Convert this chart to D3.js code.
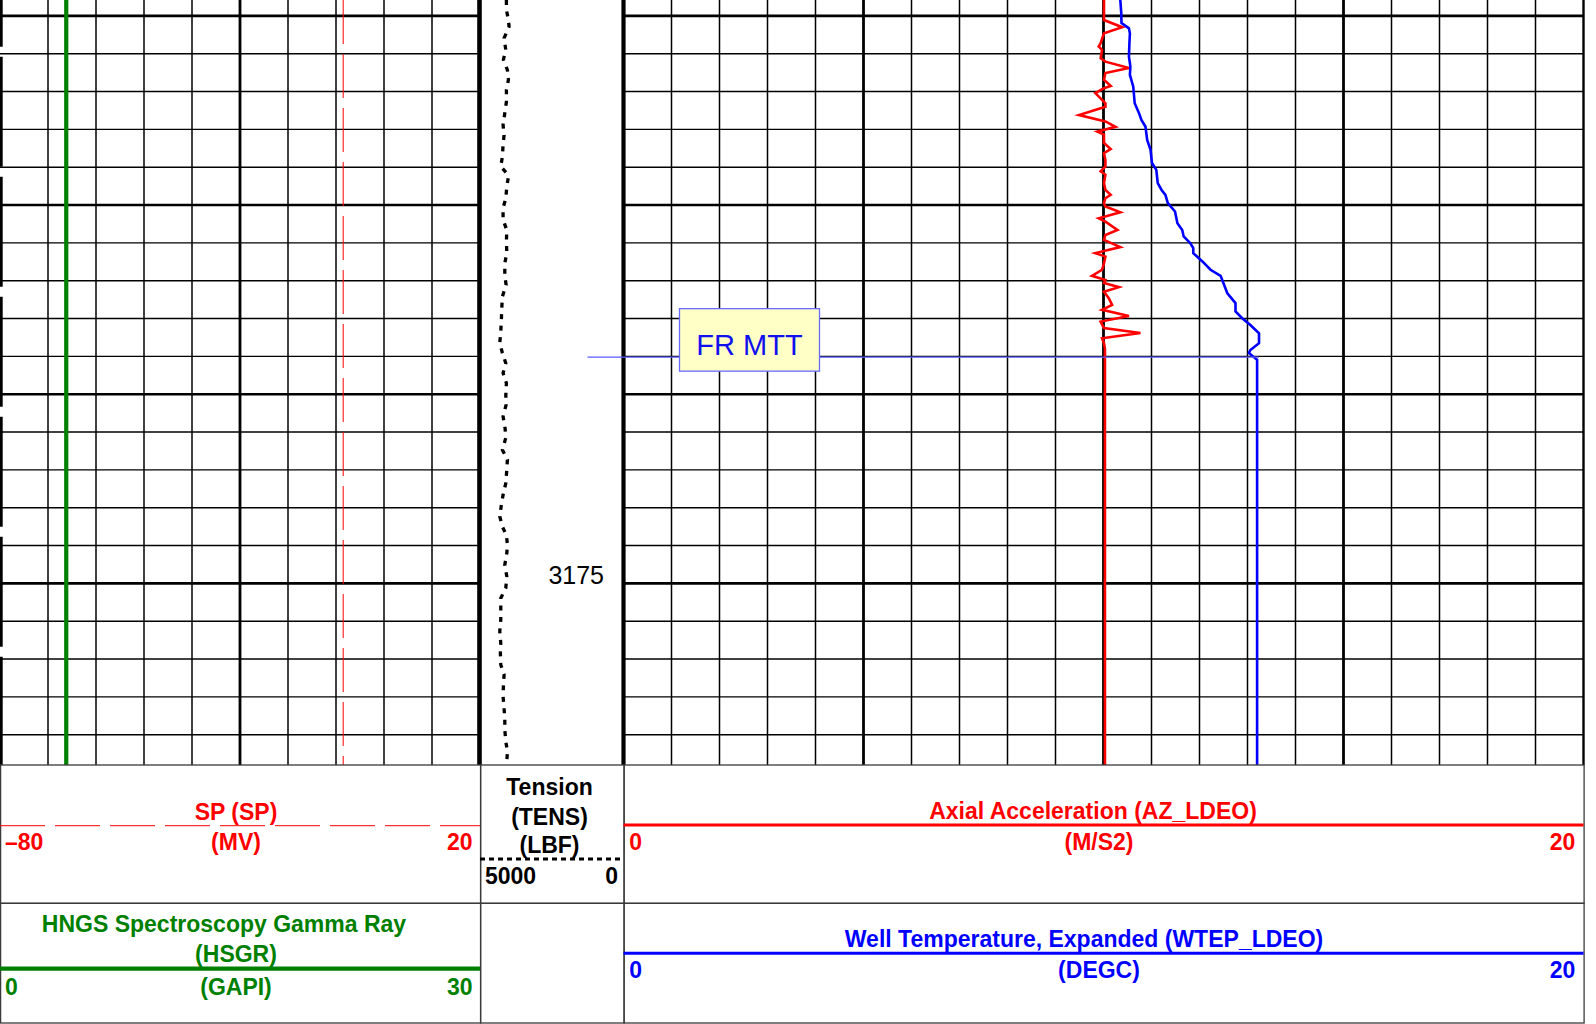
<!DOCTYPE html>
<html>
<head>
<meta charset="utf-8">
<script src="https://cdn.jsdelivr.net/npm/d3@7"></script>
<style>
  html, body { margin: 0; padding: 0; background: #fff; }
  svg { display: block; font-family: "Liberation Sans", Arial, Helvetica, sans-serif; }
</style>
</head>
<body>
<svg id="chart" width="1596" height="1024"></svg>
<script>
// depth window (m)
const depthTop = 3159.58;
const depthBottom = 3179.8;
const depthLabels = [3175];

// HNGS gamma ray (GAPI) and SP (MV) - flat in this interval
const hsgrDepth = [3159.58, 3179.8];
const hsgrValue = [4.14, 4.14];
const spDepth = [3159.58, 3179.8];
const spValue = [-8.5, -8.5];

// Tension (LBF)
const tensDepth = [3159.58, 3159.84, 3160.06, 3160.28, 3160.59, 3160.90, 3161.16, 3161.43, 3161.69, 3161.96,
  3162.27, 3162.57, 3162.88, 3163.15, 3163.41, 3163.72, 3163.98, 3164.16, 3164.25, 3164.51,
  3164.82, 3165.08, 3165.39, 3165.66, 3165.96, 3166.27, 3166.54, 3166.85, 3167.11, 3167.42,
  3167.72, 3168.03, 3168.34, 3168.65, 3168.91, 3169.18, 3169.44, 3169.71, 3170.02, 3170.28,
  3170.59, 3170.90, 3171.15, 3171.47, 3171.73, 3171.99, 3172.35, 3172.66, 3172.92, 3173.23,
  3173.50, 3173.72, 3173.98, 3174.20, 3174.51, 3174.82, 3175.12, 3175.39, 3175.70, 3175.96,
  3176.27, 3176.58, 3176.84, 3177.15, 3177.41, 3177.72, 3177.99, 3178.30, 3178.60, 3178.87,
  3179.18, 3179.44, 3179.71, 3179.80];
const tensValue = [4080, 4080, 4021, 3986, 4161, 4101, 4185, 4045, 4010, 4080,
  4080, 4136, 4196, 4161, 4196, 4220, 4276, 4066, 4010, 4066,
  4101, 4196, 4196, 4066, 4080, 4066, 4136, 4136, 4091, 4220,
  4241, 4255, 4276, 4311, 4220, 4101, 4196, 4080, 4101, 4091,
  4196, 4126, 4101, 4220, 4045, 4066, 4101, 4196, 4255, 4311,
  4220, 4080, 4045, 4066, 4136, 4066, 4101, 4276, 4276, 4276,
  4311, 4276, 4290, 4276, 4161, 4185, 4196, 4161, 4136, 4136,
  4101, 4045, 4066, 4066];

// Axial acceleration AZ_LDEO (M/S2)
const azDepth = [3159.58, 3160.11, 3160.30, 3160.46, 3160.72, 3160.81, 3160.90, 3161.12, 3161.21, 3161.38,
  3161.51, 3161.69, 3161.85, 3161.91, 3162.04, 3162.22, 3162.31, 3162.40, 3162.62, 3162.79,
  3162.93, 3163.06, 3163.14, 3163.36, 3163.52, 3163.63, 3163.81, 3163.98, 3164.11, 3164.20,
  3164.42, 3164.60, 3164.73, 3164.82, 3164.95, 3165.04, 3165.19, 3165.35, 3165.44, 3165.66,
  3165.79, 3165.92, 3166.11, 3166.27, 3166.36, 3166.54, 3166.71, 3166.87, 3166.98, 3167.06,
  3167.17, 3167.29, 3167.46, 3167.64, 3167.77, 3167.93, 3168.08, 3168.25, 3168.38, 3168.52,
  3168.65, 3168.80, 3179.80];
const azValue = [10.01, 10.01, 10.39, 10.01, 9.94, 9.90, 9.97, 9.94, 10.04, 10.53,
  10.04, 10.01, 10.15, 10.01, 9.83, 9.97, 10.04, 10.04, 9.49, 10.04,
  10.25, 9.87, 10.01, 10.01, 10.15, 10.01, 10.04, 10.04, 9.94, 10.04,
  10.01, 10.04, 10.15, 10.04, 10.01, 10.04, 10.35, 9.90, 10.04, 10.29,
  10.04, 10.01, 10.35, 9.83, 10.04, 10.01, 9.97, 9.76, 10.04, 10.01,
  10.32, 10.01, 10.11, 10.18, 9.97, 10.53, 9.94, 10.01, 10.77, 9.97,
  10.01, 10.03, 10.03];

// Well temperature WTEP_LDEO (DEGC)
const wtepDepth = [3159.58, 3159.93, 3160.19, 3160.33, 3160.46, 3160.72, 3161.08, 3161.34, 3161.56, 3161.87,
  3162.31, 3162.57, 3162.75, 3162.93, 3163.28, 3163.54, 3163.89, 3164.07, 3164.42, 3164.60,
  3164.73, 3164.95, 3165.17, 3165.48, 3165.66, 3165.83, 3166.01, 3166.14, 3166.27, 3166.49,
  3166.71, 3166.87, 3167.33, 3167.59, 3167.81, 3167.99, 3168.17, 3168.39, 3168.65, 3168.83,
  3168.91, 3169.09, 3179.80];
const wtepValue = [10.35, 10.37, 10.375, 10.53, 10.55, 10.54, 10.53, 10.56, 10.55, 10.62,
  10.65, 10.74, 10.79, 10.875, 10.91, 10.98, 11.01, 11.10, 11.13, 11.21,
  11.29, 11.34, 11.49, 11.54, 11.64, 11.67, 11.81, 11.87, 11.87, 12.06,
  12.23, 12.44, 12.58, 12.75, 12.75, 12.89, 13.06, 13.24, 13.24, 13.06,
  13.03, 13.20, 13.20];

const markerDepth = [3169.02];
const markerValue = [13.24];
const markerLabel = ['FR MTT'];

const RED = '#ff0000', BLUE = '#0000ff', GREEN = '#008000';

const svg = d3.select('#chart');
const plotH = 765;

const y = d3.scaleLinear().domain([depthTop, depthBottom]).range([0, plotH]);
const xGR = d3.scaleLinear().domain([0, 30]).range([0, 480]);
const xSP = d3.scaleLinear().domain([-80, 20]).range([0, 480]);
const xTens = d3.scaleLinear().domain([5000, 0]).range([480, 623.5]);
const xT3 = d3.scaleLinear().domain([0, 20]).range([623.5, 1583.5]);

svg.append('defs').append('clipPath').attr('id', 'plotClip')
  .append('rect').attr('x', 0).attr('y', 0).attr('width', 1596).attr('height', plotH);

const grid = svg.append('g');
const depthTicks = d3.range(Math.ceil(depthTop), Math.floor(depthBottom) + 1);

// horizontal depth lines, track 1 and track 3
[[0, 480], [623.5, 1583.5]].forEach(([x0, x1]) => {
  grid.append('g').selectAll('line')
    .data(depthTicks)
    .join('line')
    .attr('x1', x0).attr('x2', x1)
    .attr('y1', d => y(d)).attr('y2', d => y(d))
    .attr('stroke', '#000')
    .attr('stroke-width', d => d % 5 === 0 ? 2.6 : 1.4);
});

// vertical lines track 1
grid.append('g').selectAll('line')
  .data(d3.range(3, 30, 3))
  .join('line')
  .attr('x1', d => xGR(d)).attr('x2', d => xGR(d))
  .attr('y1', 0).attr('y2', plotH)
  .attr('stroke', '#000')
  .attr('stroke-width', d => d === 15 ? 2.8 : 1.5);

// vertical lines track 3
grid.append('g').selectAll('line')
  .data(d3.range(1, 20))
  .join('line')
  .attr('x1', d => xT3(d)).attr('x2', d => xT3(d))
  .attr('y1', 0).attr('y2', plotH)
  .attr('stroke', '#000')
  .attr('stroke-width', d => d % 5 === 0 ? 2.8 : 1.5);

// track borders
grid.append('line').attr('x1', 1.3).attr('x2', 1.3).attr('y1', 0).attr('y2', plotH)
  .attr('stroke', '#000').attr('stroke-width', 2.8)
  .attr('stroke-dasharray', '110,10').attr('stroke-dashoffset', 63.3);
grid.append('line').attr('x1', 479.5).attr('x2', 479.5).attr('y1', 0).attr('y2', plotH)
  .attr('stroke', '#000').attr('stroke-width', 4.6);
grid.append('line').attr('x1', 623.5).attr('x2', 623.5).attr('y1', 0).attr('y2', plotH)
  .attr('stroke', '#000').attr('stroke-width', 4.2);
grid.append('line').attr('x1', 1583.5).attr('x2', 1583.5).attr('y1', 0).attr('y2', plotH)
  .attr('stroke', '#000').attr('stroke-width', 2.4);

// depth labels
svg.append('g').selectAll('text')
  .data(depthLabels)
  .join('text')
  .attr('x', 604).attr('y', d => y(d) + 1)
  .attr('text-anchor', 'end')
  .style('font-size', '25px')
  .attr('fill', '#000')
  .text(d => d);

const curves = svg.append('g').attr('clip-path', 'url(#plotClip)');
const toPts = (ds, vs) => ds.map((d, i) => [d, vs[i]]);

function drawCurve(ds, vs, xs, color, width, dash) {
  const line = d3.line().x(p => xs(p[1])).y(p => y(p[0]));
  const path = curves.append('path')
    .datum(toPts(ds, vs))
    .attr('d', line)
    .attr('fill', 'none')
    .attr('stroke', color)
    .attr('stroke-width', width)
    .attr('stroke-linejoin', 'miter');
  if (dash) path.attr('stroke-dasharray', dash);
  return path;
}

drawCurve(spDepth, spValue, xSP, RED, 1, '44,10');
drawCurve(hsgrDepth, hsgrValue, xGR, GREEN, 4.2);
drawCurve(tensDepth, tensValue, xTens, '#000', 3.3, '5,6.5');
drawCurve(azDepth, azValue, xT3, RED, 2.6);
drawCurve(wtepDepth, wtepValue, xT3, BLUE, 2.6);

// marker (FR MTT)
const mk = svg.append('g');
markerDepth.forEach((d, i) => {
  const my = y(d);
  mk.append('line')
    .attr('x1', xTens.range()[1] - 36).attr('x2', xT3(markerValue[i]))
    .attr('y1', my).attr('y2', my)
    .attr('stroke', '#5a5aff').attr('stroke-width', 1.2);
  mk.append('rect')
    .attr('x', xT3.range()[0] + 56).attr('y', my - 48.5)
    .attr('width', 140).attr('height', 62.5)
    .attr('fill', '#ffffc6')
    .attr('stroke', '#6a6aff').attr('stroke-width', 1.3);
  mk.append('text')
    .attr('x', xT3.range()[0] + 126).attr('y', my - 2)
    .attr('text-anchor', 'middle')
    .attr('fill', '#1010ee')
    .style('font-size', '29px')
    .text(markerLabel[i]);
});

// ---- header boxes ----
const head = svg.append('g');
const rowTop = plotH, rowMid = 903.3, rowBot = 1023;
const cols = [[0, 480], [480, 623.5], [623.5, 1583.5]];
cols.forEach(([x0, x1]) => {
  [[rowTop, rowMid], [rowMid, rowBot]].forEach(([y0, y1]) => {
    head.append('rect')
      .attr('x', x0 + 0.6).attr('y', y0)
      .attr('width', x1 - x0).attr('height', y1 - y0)
      .attr('fill', 'none')
      .attr('stroke', '#3a3a3a').attr('stroke-width', 1.3);
  });
});

function htext(x, yy, anchor, color, str) {
  head.append('text')
    .attr('x', x).attr('y', yy)
    .attr('text-anchor', anchor)
    .attr('fill', color)
    .style('font-size', '23px')
    .style('font-weight', 'bold')
    .text(str);
}
function hline(x0, x1, yy, color, width, dash) {
  const l = head.append('line')
    .attr('x1', x0).attr('x2', x1).attr('y1', yy).attr('y2', yy)
    .attr('stroke', color).attr('stroke-width', width);
  if (dash) l.attr('stroke-dasharray', dash);
}

// SP
hline(0, 480, 825.7, RED, 1, '45,10');
htext(236, 820, 'middle', RED, 'SP (SP)');
htext(236, 850, 'middle', RED, '(MV)');
htext(5, 850, 'start', RED, '\u201380');
htext(472.6, 850, 'end', RED, '20');

// Tension
htext(549.5, 795, 'middle', '#000', 'Tension');
htext(549.5, 825, 'middle', '#000', '(TENS)');
htext(549.5, 853, 'middle', '#000', '(LBF)');
hline(480, 623.5, 859, '#000', 3, '5,4');
htext(485, 884, 'start', '#000', '5000');
htext(618, 884, 'end', '#000', '0');

// HSGR
htext(224, 931.7, 'middle', GREEN, 'HNGS Spectroscopy Gamma Ray');
htext(236, 961.7, 'middle', GREEN, '(HSGR)');
hline(0, 480, 968.7, GREEN, 4.2);
htext(5, 995, 'start', GREEN, '0');
htext(236, 995, 'middle', GREEN, '(GAPI)');
htext(472.6, 995, 'end', GREEN, '30');

// AZ
htext(1093, 819.3, 'middle', RED, 'Axial Acceleration (AZ_LDEO)');
hline(623.5, 1583.5, 825, RED, 3);
htext(629.3, 850, 'start', RED, '0');
htext(1099, 850, 'middle', RED, '(M/S2)');
htext(1575.4, 850, 'end', RED, '20');

// WTEP
htext(1084, 946.7, 'middle', BLUE, 'Well Temperature, Expanded (WTEP_LDEO)');
hline(623.5, 1583.5, 953.3, BLUE, 3);
htext(629.3, 978.3, 'start', BLUE, '0');
htext(1099, 978.3, 'middle', BLUE, '(DEGC)');
htext(1575.4, 978.3, 'end', BLUE, '20');
</script>
</body>
</html>
